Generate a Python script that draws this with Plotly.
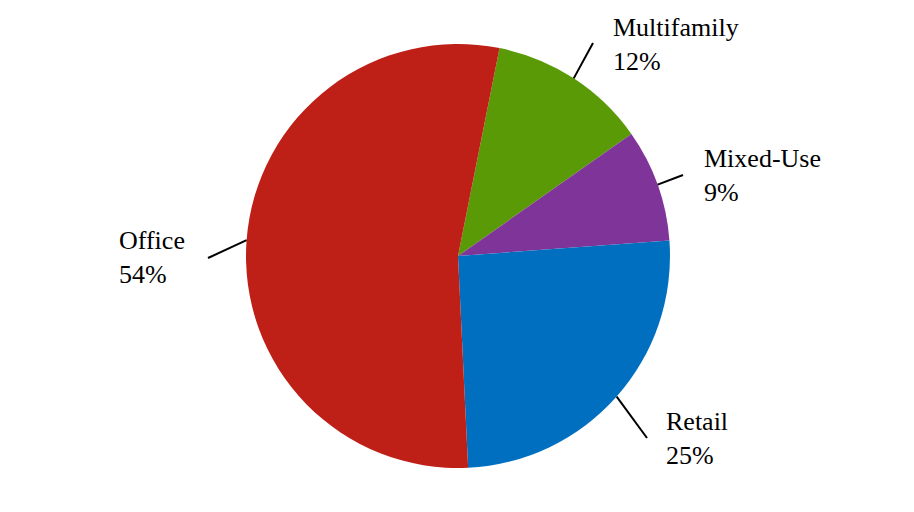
import math
import plotly.graph_objects as go

# ---- data ----
categories = ["Multifamily", "Mixed-Use", "Retail", "Office"]
values = [12.1, 8.6, 25.4, 53.9]
colors = ["#5B9A07", "#7F3499", "#006FC0", "#BE1F16"]

# ---- layout constants (screen pixels) ----
OFF = 8  # page body margin
W, H = 914 - OFF, 512 - OFF
CX, CY, R = 458 - OFF, 256 - OFF, 212
ROTATION = 11.3
FONT = "Liberation Serif"
FS = 26
leader_end = {"Multifamily": (593, 43), "Mixed-Use": (683, 175),
              "Retail": (647, 438), "Office": (208, 258)}
label_pos = {"Multifamily": (611, 11), "Mixed-Use": (702, 142),
             "Retail": (664, 405), "Office": (117, 224)}


def px(x):
    return (x - OFF) / W


def py(y):
    return 1 - (y - OFF) / H


fig = go.Figure(go.Pie(
    labels=categories, values=values, sort=False, direction="clockwise",
    rotation=ROTATION, marker=dict(colors=colors, line=dict(width=0)),
    textinfo="none", hoverinfo="label+percent", showlegend=False,
    domain=dict(x=[(CX - R) / W, (CX + R) / W],
                y=[1 - (CY + R) / H, 1 - (CY - R) / H]),
))

total = sum(values)
cum = 0.0
shapes, annotations = [], []
for cat, v in zip(categories, values):
    mid = ROTATION + (cum + v / 2) / total * 360
    cum += v
    a = math.radians(mid)
    ix = CX + OFF + R * math.sin(a)
    iy = CY + OFF - R * math.cos(a)
    ox, oy = leader_end[cat]
    shapes.append(dict(type="line", xref="paper", yref="paper",
                       x0=px(ix), y0=py(iy), x1=px(ox), y1=py(oy),
                       line=dict(color="black", width=2)))
    lx, ly = label_pos[cat]
    pct = round(v / total * 100)
    annotations.append(dict(xref="paper", yref="paper", x=px(lx), y=py(ly),
                            xanchor="left", yanchor="top", align="left",
                            showarrow=False, text=f"{cat}<br>{pct}%",
                            font=dict(family=FONT, size=FS, color="black")))

fig.update_layout(width=W, height=H, margin=dict(l=0, r=0, t=0, b=0),
                  paper_bgcolor="white", plot_bgcolor="white",
                  font=dict(family=FONT),
                  shapes=shapes, annotations=annotations)
fig.write_html("out.html")
